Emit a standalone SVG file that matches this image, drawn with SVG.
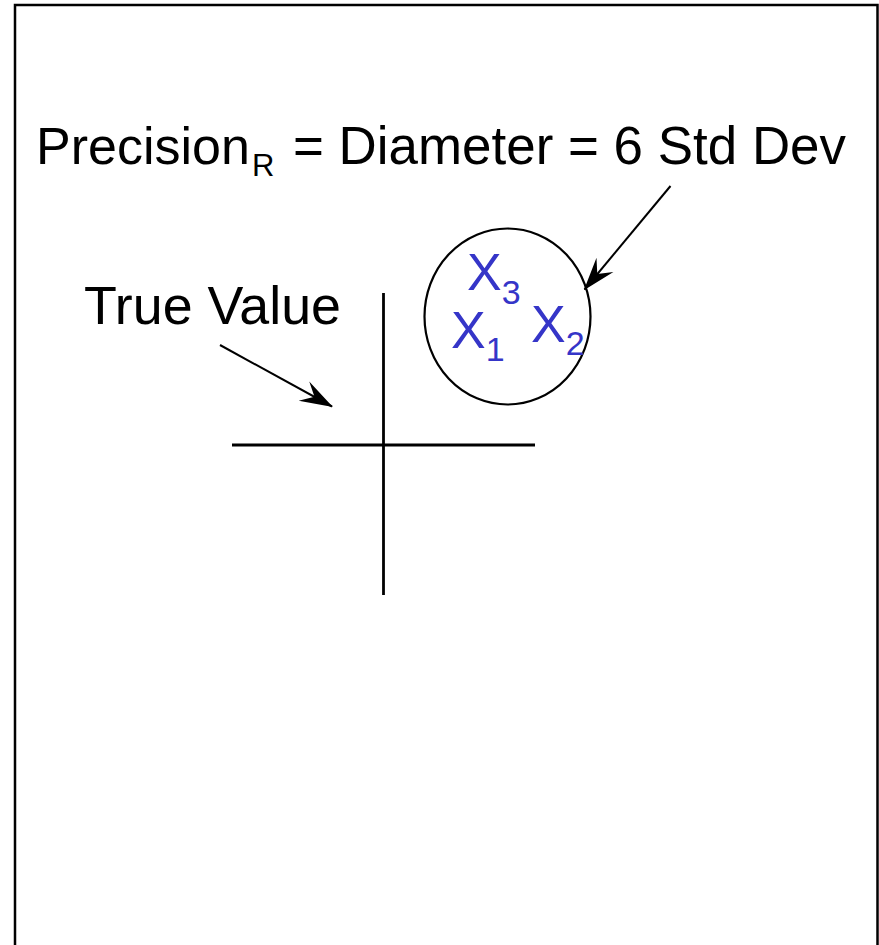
<svg xmlns="http://www.w3.org/2000/svg" width="879" height="945" viewBox="0 0 879 945">
  <style>
    .lbl { font-family: "Liberation Sans", Arial, sans-serif; fill: #000; }
    .blue { font-family: "Liberation Sans", Arial, sans-serif; fill: #3535c8; }
    .ln { stroke: #000; fill: none; }
  </style>
  <defs>
    <marker id="barb" markerUnits="userSpaceOnUse" viewBox="-34 -13 36 26" refX="0" refY="0" markerWidth="36" markerHeight="26" orient="auto" overflow="visible">
      <path d="M1,0 L-32,-11 L-20,0 L-32,11 Z" fill="#000"/>
    </marker>
  </defs>
  <rect width="879" height="945" fill="#fff"/>
  <g id="frame">
    <path class="ln" stroke-width="2.5" d="M15,950 L15,5 L877.5,5 L877.5,950"/>
  </g>
  <g id="title">
    <text class="lbl" x="36" y="164" font-size="52">Precision<tspan x="252" dy="12" font-size="31">R</tspan><tspan x="293" dy="-12" font-size="53" textLength="553" lengthAdjust="spacingAndGlyphs">= Diameter = 6 Std Dev</tspan></text>
  </g>
  <g id="true-value">
    <text class="lbl" x="84" y="324" font-size="53" textLength="257" lengthAdjust="spacingAndGlyphs">True Value</text>
  </g>
  <g id="target-cross">
    <line class="ln" stroke-width="2.8" x1="383.5" y1="293" x2="383.5" y2="595"/>
    <line class="ln" stroke-width="2.8" x1="232" y1="445" x2="535" y2="445"/>
  </g>
  <g id="precision-circle">
    <ellipse class="ln" stroke-width="2.2" cx="507.5" cy="316.5" rx="83" ry="88"/>
    <text class="blue" x="467" y="290" font-size="52">X<tspan font-size="34" dy="14">3</tspan></text>
    <text class="blue" x="451" y="348" font-size="52">X<tspan font-size="34" dy="13">1</tspan></text>
    <text class="blue" x="531" y="342" font-size="52">X<tspan font-size="34" dy="13">2</tspan></text>
  </g>
  <g id="connectors">
    <line class="ln" stroke-width="2" x1="220" y1="345" x2="332" y2="406.5" marker-end="url(#barb)"/>
    <line class="ln" stroke-width="2" x1="670.5" y1="186" x2="584.5" y2="289.5" marker-end="url(#barb)"/>
  </g>
</svg>
